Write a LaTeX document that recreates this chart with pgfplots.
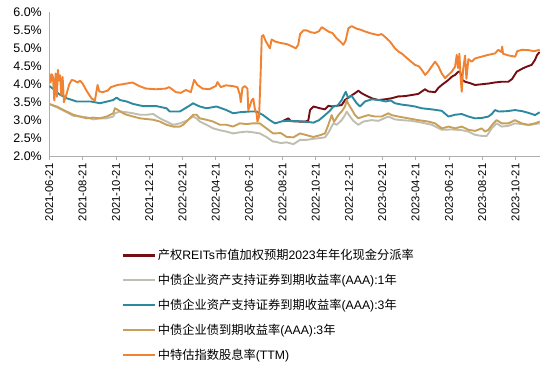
\documentclass[border=0pt]{standalone}
\usepackage{fontspec}
\setmainfont{Liberation Sans}
\newfontfamily\cjk{Noto Sans CJK SC}
\usepackage{pgfplots}
\pgfplotsset{compat=1.18}
\definecolor{cMaroon}{RGB}{115,15,20}
\definecolor{cGray}{RGB}{192,190,176}
\definecolor{cTeal}{RGB}{45,138,158}
\definecolor{cGold}{RGB}{200,160,90}
\definecolor{cOrange}{RGB}{240,130,50}
\definecolor{cAxis}{RGB}{175,175,175}
\begin{document}
\begin{tikzpicture}
\useasboundingbox (0,0) rectangle (550bp,367bp);
\begin{axis}[
  at={(49.3bp,211bp)}, anchor=south west,
  scale only axis, width=490.7bp, height=143.5bp,
  xmin=0, xmax=29.47, ymin=2, ymax=6,
  axis x line*=bottom, axis y line*=left,
  axis line style={cAxis, line width=0.8bp, -},
  xtick={0,2,...,28},
  xticklabels={2021-06-21,2021-08-21,2021-10-21,2021-12-21,2022-02-21,2022-04-21,2022-06-21,2022-08-21,2022-10-21,2022-12-21,2023-02-21,2023-04-21,2023-06-21,2023-08-21,2023-10-21},
  xticklabel style={rotate=90, anchor=east, font=\fontsize{11.3}{13}\selectfont, text=black},
  ytick={2,2.5,...,6},
  yticklabels={2.0\%,2.5\%,3.0\%,3.5\%,4.0\%,4.5\%,5.0\%,5.5\%,6.0\%},
  yticklabel style={font=\fontsize{12.5}{14}\selectfont, text=black},
  /pgf/number format/assume math mode=true,
  tick align=outside,
  xtick style={cAxis, line width=0.8bp},
  major tick length=4bp,
  ytick style={draw=none},
  legend style={at={(axis description cs:0.148,-0.64)}, anchor=north west, draw=none, fill=none,
    font=\fontsize{12.3}{14}\selectfont, row sep=10bp, inner sep=0pt,
    nodes={inner sep=1.5bp}},
  legend cell align=left,
  legend image code/.code={\draw[#1, line width=2.2bp] (0bp,0bp) -- (32bp,0bp);},
  every axis plot/.append style={line width=1.9bp, line join=round},
]
\addplot[cMaroon] coordinates {
(14.00,2.97)(14.36,3.05)(14.50,2.97)(15.00,2.96)(15.40,2.96)(15.56,3.00)(15.66,3.28)(15.86,3.38)
(16.26,3.33)(16.56,3.30)(16.76,3.40)(16.96,3.38)(17.26,3.40)(17.56,3.42)(17.76,3.56)(18.06,3.66)
(18.36,3.75)(18.56,3.82)(18.76,3.75)(18.96,3.70)(19.36,3.61)(19.76,3.56)(20.16,3.58)(20.56,3.61)
(20.96,3.66)(21.36,3.67)(21.76,3.70)(22.16,3.73)(22.56,3.86)(22.76,3.80)(23.17,3.78)(23.37,3.90)
(23.57,3.98)(23.97,4.12)(24.17,4.21)(24.37,4.26)(24.57,4.35)(24.67,4.35)(24.80,4.12)(24.97,4.07)
(25.27,4.03)(25.57,3.98)(25.97,4.00)(26.37,4.02)(26.77,4.05)(27.17,4.07)(27.57,4.07)(27.80,4.15)
(28.07,4.35)(28.27,4.40)(28.47,4.45)(28.67,4.49)(28.97,4.54)(29.17,4.68)(29.30,4.82)(29.45,4.90)
};
\addlegendentry{{\cjk 产权}REITs{\cjk 市值加权预期}2023{\cjk 年年化现金分派率}}
\addplot[cGray] coordinates {
(0.00,3.45)(0.44,3.36)(1.04,3.22)(1.44,3.12)(1.84,3.10)(2.24,3.08)(2.64,3.02)(3.04,3.05)
(3.44,3.05)(3.84,3.10)(3.94,3.19)(4.24,3.24)(4.64,3.22)(5.04,3.19)(5.44,3.15)(5.84,3.15)
(6.24,3.17)(6.64,3.05)(7.04,2.96)(7.44,2.87)(7.84,2.91)(8.24,2.98)(8.64,3.10)(8.84,3.05)
(9.04,2.96)(9.44,2.87)(9.84,2.77)(10.24,2.72)(10.64,2.68)(11.04,2.63)(11.44,2.66)(11.84,2.68)
(12.24,2.66)(12.64,2.63)(13.04,2.53)(13.44,2.40)(13.56,2.40)(13.90,2.36)(14.26,2.38)(14.66,2.33)
(15.06,2.45)(15.46,2.45)(15.86,2.48)(16.26,2.50)(16.56,2.52)(16.76,2.65)(17.06,2.91)(17.26,2.87)
(17.56,3.00)(17.76,3.14)(17.86,3.24)(18.06,3.10)(18.26,2.98)(18.56,2.87)(18.86,2.96)(19.36,3.00)
(19.76,2.98)(20.36,3.10)(20.76,3.02)(21.16,3.00)(21.76,2.98)(22.37,2.93)(22.97,2.87)(23.57,2.73)
(24.17,2.74)(24.77,2.72)(25.17,2.68)(25.57,2.59)(25.97,2.56)(26.27,2.56)(26.57,2.77)(26.87,2.91)
(27.17,2.82)(27.57,2.84)(27.97,2.91)(28.37,2.89)(28.77,2.86)(29.17,2.89)(29.45,2.91)
};
\addlegendentry{{\cjk 中债企业资产支持证券到期收益率}(AAA):1{\cjk 年}}
\addplot[cTeal] coordinates {
(0.00,3.95)(0.30,3.85)(0.60,3.72)(1.04,3.61)(1.64,3.52)(2.50,3.52)(3.04,3.47)(3.84,3.56)
(4.04,3.63)(4.24,3.56)(4.64,3.52)(5.04,3.45)(5.64,3.39)(6.44,3.39)(7.04,3.33)(7.24,3.24)
(7.84,3.24)(8.34,3.38)(8.64,3.47)(8.84,3.42)(9.04,3.38)(9.44,3.33)(10.04,3.38)(10.64,3.28)
(11.04,3.19)(11.44,3.22)(12.04,3.24)(12.44,3.24)(12.84,3.14)(13.24,3.00)(13.56,2.91)(14.00,2.97)
(14.50,2.98)(15.00,2.97)(15.50,2.95)(15.86,2.93)(16.20,3.00)(16.56,3.14)(16.85,3.26)(17.06,3.38)
(17.30,3.40)(17.55,3.55)(17.80,3.79)(17.95,3.62)(18.15,3.68)(18.46,3.47)(18.66,3.38)(18.96,3.52)
(19.36,3.58)(19.80,3.56)(20.20,3.52)(20.50,3.55)(20.76,3.47)(21.20,3.43)(21.56,3.41)(21.96,3.38)
(22.37,3.33)(22.97,3.30)(23.57,3.26)(23.97,3.10)(24.37,3.15)(24.77,3.17)(25.17,3.10)(25.57,3.05)
(25.97,3.06)(26.37,3.10)(26.57,3.17)(26.77,3.28)(27.00,3.24)(27.50,3.25)(27.97,3.28)(28.40,3.25)
(28.80,3.20)(29.17,3.14)(29.45,3.22)
};
\addlegendentry{{\cjk 中债企业资产支持证券到期收益率}(AAA):3{\cjk 年}}
\addplot[cGold] coordinates {
(0.00,3.45)(0.44,3.38)(1.04,3.24)(1.44,3.15)(1.84,3.10)(2.24,3.05)(2.64,3.07)(3.04,3.05)
(3.44,3.10)(3.84,3.19)(3.94,3.33)(4.14,3.28)(4.44,3.19)(4.64,3.15)(5.04,3.10)(5.44,3.05)
(5.84,3.03)(6.24,3.01)(6.64,2.96)(7.04,2.87)(7.44,2.82)(7.84,2.82)(8.04,2.87)(8.34,3.01)
(8.64,3.15)(8.84,3.15)(9.04,3.05)(9.44,3.01)(9.84,2.96)(10.24,2.87)(10.64,2.87)(11.04,2.82)
(11.44,2.91)(11.84,2.89)(12.24,2.91)(12.64,2.91)(13.04,2.77)(13.44,2.63)(13.56,2.63)(13.90,2.64)
(14.26,2.53)(14.66,2.52)(15.06,2.63)(15.46,2.58)(15.86,2.53)(16.26,2.58)(16.56,2.63)(16.76,2.87)
(16.96,3.14)(17.10,2.95)(17.36,3.14)(17.56,3.24)(17.76,3.38)(17.86,3.56)(17.96,3.45)(18.16,3.30)
(18.36,3.14)(18.56,3.05)(18.86,3.10)(19.16,3.14)(19.56,3.10)(19.96,3.10)(20.36,3.19)(20.56,3.14)
(20.96,3.10)(21.56,3.05)(22.16,3.00)(22.76,2.96)(23.17,2.91)(23.57,2.77)(23.97,2.82)(24.37,2.77)
(24.77,2.82)(25.17,2.73)(25.57,2.70)(25.97,2.77)(26.17,2.68)(26.37,2.73)(26.67,2.91)(26.87,3.00)
(27.17,2.91)(27.57,2.91)(27.80,2.96)(27.97,3.00)(28.37,2.91)(28.77,2.87)(29.17,2.91)(29.45,2.96)
};
\addlegendentry{{\cjk 中债企业债到期收益率}(AAA):3{\cjk 年}}
\addplot[cOrange] coordinates {
(0.00,4.30)(0.08,4.05)(0.15,4.28)(0.22,4.20)(0.30,3.55)(0.38,4.30)(0.45,3.65)(0.52,4.40)
(0.58,4.10)(0.65,4.25)(0.72,3.70)(0.80,4.20)(0.88,3.50)(0.95,3.60)(1.05,3.75)(1.20,4.00)
(1.35,4.12)(1.50,4.10)(1.70,4.05)(1.85,4.10)(2.00,4.02)(2.20,3.85)(2.40,3.70)(2.55,3.60)
(2.74,3.55)(2.85,3.85)(2.90,3.98)(3.00,3.80)(3.20,3.78)(3.50,3.82)(3.70,3.92)(3.90,3.95)
(4.10,3.98)(4.40,4.00)(5.00,4.05)(5.40,3.95)(5.80,3.88)(6.40,3.86)(7.00,3.88)(7.20,3.92)
(7.60,3.78)(7.90,3.76)(8.20,3.84)(8.50,3.78)(8.70,4.12)(8.90,3.98)(9.20,3.88)(9.60,3.86)
(10.00,3.95)(10.10,4.06)(10.30,3.92)(10.60,3.97)(11.00,3.95)(11.30,3.92)(11.45,3.70)(11.50,3.50)
(11.60,3.90)(11.75,3.95)(11.90,3.88)(11.95,3.28)(12.05,3.40)(12.15,3.55)(12.25,3.60)(12.35,3.30)
(12.45,3.18)(12.50,2.96)(12.60,3.10)(12.70,4.40)(12.76,5.33)(12.85,5.37)(13.00,5.20)(13.25,5.00)
(13.35,5.25)(13.56,5.19)(13.90,5.15)(14.26,5.12)(14.56,5.06)(14.80,5.00)(14.95,5.10)(15.06,5.40)
(15.26,5.50)(15.46,5.50)(15.70,5.45)(15.96,5.43)(16.20,5.48)(16.36,5.59)(16.60,5.52)(16.80,5.46)
(17.00,5.43)(17.26,5.28)(17.45,5.20)(17.66,5.10)(17.80,5.22)(17.96,5.56)(18.16,5.62)(18.45,5.55)
(18.70,5.52)(18.96,5.47)(19.30,5.42)(19.76,5.37)(19.95,5.40)(20.16,5.32)(20.46,5.19)(20.76,5.00)
(21.00,4.90)(21.16,4.86)(21.50,4.72)(21.96,4.54)(22.20,4.50)(22.37,4.40)(22.57,4.26)(22.75,4.35)
(22.97,4.50)(23.17,4.63)(23.37,4.50)(23.57,4.30)(23.77,4.17)(23.97,4.26)(24.17,4.35)(24.37,4.49)
(24.47,4.82)(24.55,4.45)(24.63,4.85)(24.70,4.20)(24.77,3.79)(24.85,4.40)(24.97,4.80)(25.05,4.15)
(25.17,4.70)(25.37,4.63)(25.57,4.72)(25.97,4.77)(26.37,4.82)(26.77,4.86)(26.97,4.96)(27.15,4.90)
(27.20,5.05)(27.25,4.85)(27.60,4.80)(27.98,4.77)(28.10,4.92)(28.37,4.96)(28.80,4.95)(29.10,4.92)
(29.45,4.96)
};
\addlegendentry{{\cjk 中特估指数股息率}(TTM)}
\end{axis}
\end{tikzpicture}
\end{document}
